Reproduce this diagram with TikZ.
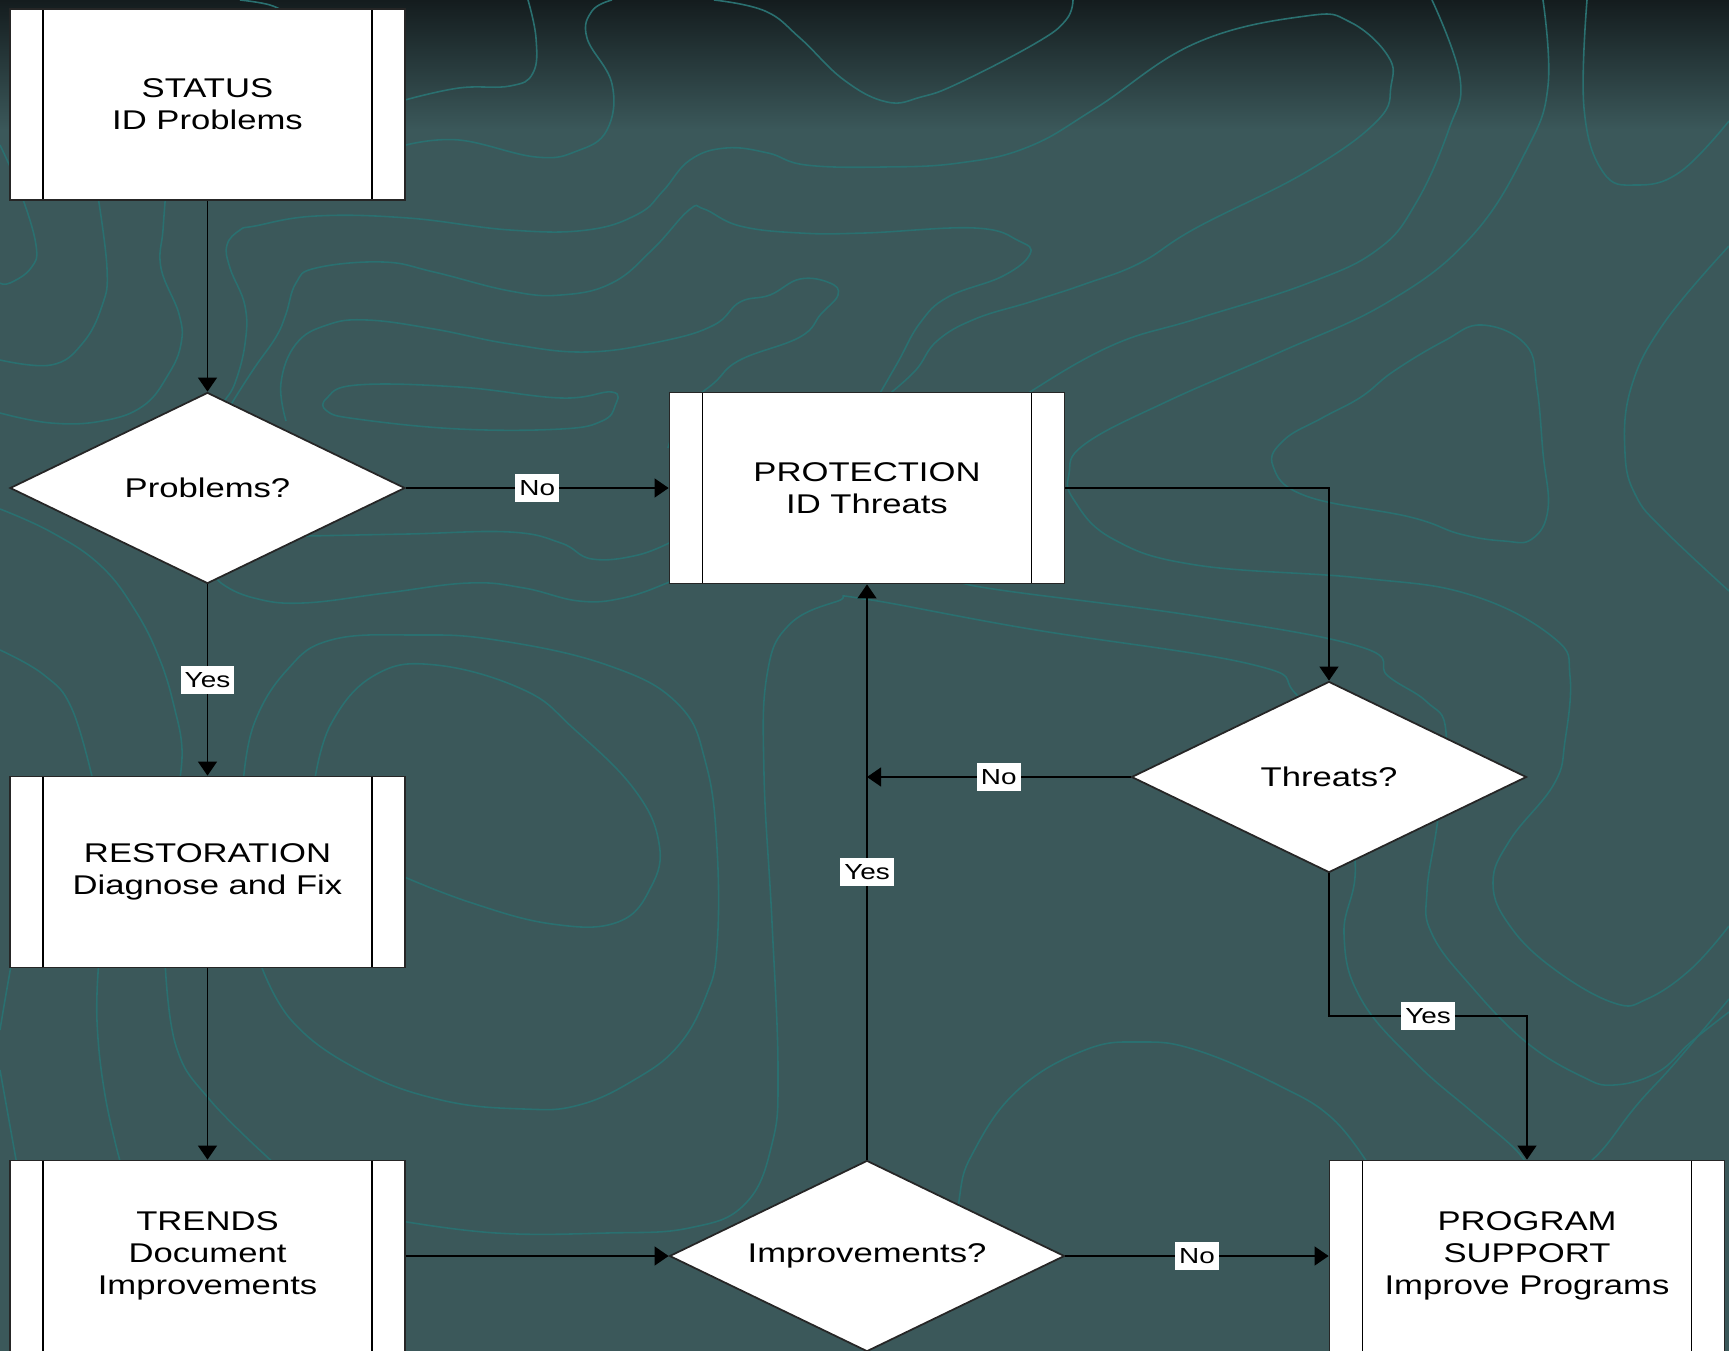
\documentclass[tikz,border=0pt]{standalone}
\usepackage{fontspec}
\setmainfont{Liberation Sans}[FakeStretch=1.28]
\usetikzlibrary{arrows.meta,shapes.geometric}
\definecolor{slate}{RGB}{59,88,90}
\definecolor{slatetop}{RGB}{20,28,30}
\definecolor{topo}{RGB}{42,112,112}
\newcommand{\boxfont}{\fontsize{7.7}{9.1}\selectfont}
\newcommand{\lblfont}{\fontsize{6.2}{7}\selectfont}

\begin{document}
\begin{tikzpicture}[x=1mm,y=1mm]
	\tikzstyle{topoline}=[draw=topo,line width=0.45pt]
	\tikzstyle{process}=[draw=black!85,fill=white,line width=0.5pt,minimum width=39.5mm,minimum height=19.1mm,inner sep=0pt,align=center,font=\boxfont,
		path picture={
		\draw[black] ([xshift=3.3mm]path picture bounding box.north west) -- ([xshift=3.3mm]path picture bounding box.south west);
		\draw[black] ([xshift=-3.3mm]path picture bounding box.north east) -- ([xshift=-3.3mm]path picture bounding box.south east);}]
	\tikzstyle{decision}=[shape=diamond,aspect=2.07,draw=black!85,fill=white,line width=0.5pt,minimum width=39.5mm,minimum height=19.1mm,inner sep=0pt,font=\boxfont]
	\tikzstyle{answer}=[fill=white,inner xsep=1.2pt,inner ysep=1.9pt,font=\lblfont]
	\tikzstyle{flow}=[-{Triangle[length=4pt,width=5.4pt]},line width=0.45pt,black]
	\useasboundingbox (0,0) rectangle (172.9,-135.1);
	\fill[slate] (0,0) rectangle (172.9,-135.1);
	\shade[top color=slatetop,bottom color=slate] (0,0) rectangle (172.9,-13);
	\draw[topoline] plot[smooth,tension=0.7] coordinates {(52.8,0) (53.6,-3.8) (53.3,-7.3) (51,-8.6) (45.9,-8.8) (40.5,-10)};
	\draw[topoline] plot[smooth,tension=0.7] coordinates {(61.2,0) (59.2,-1.1) (58.7,-3.8) (61.2,-8.4) (60.7,-13) (57.7,-15.1) (53.6,-15.7) (45.9,-14) (40.6,-14.5)};
	\draw[topoline] plot[smooth,tension=0.7] coordinates {(71.4,0) (76.5,-1.1) (80,-3.8) (84.4,-8) (88.7,-10.2) (92.1,-9.7) (95.9,-8.3) (103.6,-4.3) (106.6,-2) (107.3,0)};
	\draw[topoline] plot[smooth,tension=0.7] coordinates {(21.5,-42) (22.4,-40.2) (23.5,-38.3) (24.5,-34.4) (24.5,-30.6) (23,-26.8) (22.7,-24.5) (24,-23) (25.5,-22.6) (31.6,-21.6) (40.8,-21.8) (51,-23) (58.7,-23) (63.8,-21.4) (66.3,-19.1) (69,-16) (72.6,-14.8) (76.8,-15.3) (80.6,-16.5) (88.3,-16.7) (95.9,-16.3) (102.8,-14.7) (109.6,-10.8) (119.6,-4.3) (130.6,-1.6) (135,-2.2) (138.8,-5.6) (139.1,-8.6) (137.7,-12.1) (130.6,-17.2) (119.6,-22.8) (114,-26.3) (108.5,-28.4) (103,-30.2) (97.5,-31.9) (93.7,-34.1) (91.5,-37.1) (88.2,-40)};
	\draw[topoline] plot[smooth,tension=0.7] coordinates {(22.5,-41.5) (23.5,-39.8) (25.5,-36.7) (27.6,-33.7) (28.6,-31.4) (29.6,-28.3) (31.6,-26.8) (38.3,-26.2) (43.4,-27.2) (51,-29.1) (56.1,-29.5) (61.2,-28.3) (65.3,-24.9) (68.9,-21) (70.4,-20.9) (74,-22.6) (80,-23.3) (86.5,-23.3) (97.5,-22.8) (101.9,-24.1) (103,-25.4) (100.3,-27.6) (94.8,-29.7) (92,-32.3) (89.8,-36.2) (87.6,-40)};
	\draw[topoline] plot[smooth,tension=0.7] coordinates {(28.6,-42.1) (28.1,-38.3) (29.6,-34.4) (32.7,-32.5) (36.7,-32) (43.4,-32.9) (51,-34.4) (58.7,-35.2) (66.3,-34.1) (71.4,-32.5) (74,-30.2) (77,-29.5) (80,-27.9) (83,-28.3) (83.8,-29.5) (82.1,-31.4) (80,-33.7) (74,-36) (71.4,-38.3) (68.4,-40.9) (66.8,-44.8)};
	\draw[topoline] plot[smooth cycle,tension=0.7] coordinates {(32.7,-39.8) (35.7,-38.5) (45.9,-38.7) (56.1,-39.8) (61.2,-39.2) (61.5,-40.6) (60.2,-42.1) (56.1,-42.9) (45.9,-42.9) (35.7,-41.9) (32.7,-41.1)};
	\draw[topoline] plot[smooth,tension=0.7] coordinates {(143.2,0) (146,-7.8) (144.9,-12.9) (141.6,-20.3) (137.7,-25) (130.6,-28.4) (119.6,-31.9) (111.3,-34.5) (103,-39.2) (101,-41)};
	\draw[topoline] plot[smooth,tension=0.7] coordinates {(154.3,0) (154.8,-8.6) (152.6,-15.1) (147.1,-23.7) (138.8,-30.2) (127.8,-35.3) (116.8,-40.1) (108.5,-44.4) (106.9,-47.4) (107.4,-50) (111.3,-53.9) (119.6,-56.5) (136.1,-57.8) (147.1,-59.5) (155.4,-63.8) (157,-67.6) (156.5,-74.1) (155.4,-78.4) (151,-84) (149.3,-88.3) (151,-92.6) (155.4,-96.9) (161.4,-100.3) (164.7,-99.9) (169.1,-96.9) (172.9,-92.6)};
	\draw[topoline] plot[smooth,tension=0.7] coordinates {(158.7,0) (158.4,-10.8) (160.3,-17.2) (163.6,-18.5) (168,-17.2) (172.9,-12.1)};
	\draw[topoline] plot[smooth,tension=0.7] coordinates {(172.9,-24.6) (166.4,-32.3) (163.1,-38.8) (162.5,-45.3) (163.6,-49.6) (166.4,-53) (172.9,-59.1)};
	\draw[topoline] plot[smooth cycle,tension=0.7] coordinates {(148.2,-32.5) (152.6,-34.5) (153.7,-38.8) (154.3,-45.3) (154.8,-50.9) (153.2,-53.9) (150.4,-54.1) (146,-53.4) (141,-51.7) (130.6,-49.6) (127.3,-46.6) (128.4,-44) (132.2,-41.8) (136.1,-39.7) (139.4,-37.1) (144.4,-34.1)};
	\draw[topoline] plot[smooth,tension=0.7] coordinates {(21.5,-57) (22.1,-58.3) (25.4,-59.8) (30.3,-60.3) (38.6,-59.3) (46.9,-58.3) (52.4,-58.8) (57.9,-60.1) (62.3,-59.8) (66.7,-58.3) (68,-57.5)};
	\draw[topoline] plot[smooth,tension=0.7] coordinates {(30.6,-53.6) (40.8,-53.4) (51,-53.2) (56.1,-54.3) (59.2,-55.9) (63.8,-55.5) (67.5,-54)};
	\draw[topoline] plot[smooth,tension=0.7] coordinates {(0,-14.5) (2,-19.1) (3.6,-24.5) (3.1,-26.8) (1,-28.3) (0,-28.3)};
	\draw[topoline] plot[smooth,tension=0.7] coordinates {(9.7,-19) (10.7,-26.8) (10.2,-30.6) (8.2,-34.4) (5.1,-36.5) (0,-36)};
	\draw[topoline] plot[smooth,tension=0.7] coordinates {(16.6,-19) (16.3,-23) (16.1,-26.8) (17.9,-31.4) (18.1,-34.4) (16.8,-37.5) (14.3,-40.6) (10.2,-42.1) (5.1,-42.3) (0,-41.3)};
	\draw[topoline] plot[smooth,tension=0.7] coordinates {(0,-50.9) (5.1,-53.2) (10,-56.5) (13.5,-61) (16,-66) (17.5,-71) (18.2,-74.9) (17.9,-78.5)};
	\draw[topoline] plot[smooth,tension=0.7] coordinates {(0,-65) (4.4,-67.5) (7.2,-70.9) (9.4,-78.5)};
	\draw[topoline] plot[smooth,tension=0.7] coordinates {(1.2,-96) (0.5,-100) (0,-103)};
	\draw[topoline] plot[smooth,tension=0.7] coordinates {(16.5,-96) (17.6,-104.6) (21,-110) (27.6,-116.5)};
	\draw[topoline] plot[smooth,tension=0.7] coordinates {(9.9,-96) (9.7,-102.1) (10.5,-109.5) (12.1,-116.5)};
	\draw[topoline] plot[smooth,tension=0.7] coordinates {(0,-107) (1.7,-116.5)};
	\draw[topoline] plot[smooth,tension=0.7] coordinates {(24.3,-78.5) (25.4,-72.4) (28.7,-67) (33.1,-64) (41.4,-63.5) (49.6,-64) (60.7,-66.5) (67.8,-70.4) (70.6,-76.4) (71.7,-84.8) (71.7,-94.7) (70.6,-99.6) (67.8,-104.6) (63.4,-108) (57.9,-110.5) (52.4,-110.9) (44.1,-110) (35.9,-107) (29.2,-102.1) (25.9,-96)};
	\draw[topoline] plot[smooth,tension=0.7] coordinates {(31.4,-78.5) (33.1,-72.4) (37.5,-67.5) (43.6,-66.5) (52.4,-69) (57.4,-72.9) (63.4,-78.9) (65.9,-84.3) (65.1,-88.7) (61.8,-92.2) (55.2,-92.4) (46.9,-90.2) (39.5,-87.3)};
	\draw[topoline] plot[smooth,tension=0.7] coordinates {(39.5,-122) (49.6,-123.3) (60.7,-123.3) (68.9,-122.8) (74.5,-120.4) (77.2,-114.4) (77.8,-107) (77.2,-92.2) (76.4,-77.4) (76.7,-67.5) (78.9,-62.5) (83.8,-60.1) (86.5,-59.9) (103,-62.9) (125,-66.4) (129.5,-69.3) (133,-75) (135.5,-86.1) (134.4,-93.4) (136.1,-99.9) (141.6,-106.3) (147.1,-111.1) (151.5,-114.9) (153,-117)};
	\draw[topoline] plot[smooth,tension=0.7] coordinates {(97.5,-57.5) (97.5,-58.6) (119.6,-61.6) (136.1,-64.7) (138.8,-67.6) (142.7,-70.2) (144.6,-73.2) (143.8,-81.8) (142.7,-89.1) (143.2,-93.4) (147.1,-98.6) (152.6,-104.2) (158.1,-107.6) (161.4,-108.5) (165.8,-107.2) (169.1,-104.2) (172.9,-101.2)};
	\draw[topoline] plot[smooth,tension=0.7] coordinates {(172.9,-99.9) (167.5,-106.3) (163.6,-110.6) (160.3,-114.9) (158,-117)};
	\draw[topoline] plot[smooth,tension=0.7] coordinates {(95.5,-130) (95.9,-120.1) (97.5,-114.9) (101.9,-108.9) (108.5,-105) (114,-104.2) (119.6,-105) (127.8,-108.5) (133.3,-111.9) (137.2,-117)};
	\draw[topoline] plot[smooth,tension=0.7] coordinates {(24,0) (27,-0.5) (29,-1.5)};
	\node[process] (status) at (20.75,-10.45) {STATUS\\ID Problems};
	\node[decision] (problems) at (20.75,-48.8) {Problems?};
	\node[process] (restoration) at (20.75,-87.2) {RESTORATION\\Diagnose and Fix};
	\node[process] (trends) at (20.75,-125.6) {TRENDS\\Document\\Improvements};
	\node[process] (protection) at (86.7,-48.8) {PROTECTION\\ID Threats};
	\node[decision] (threats) at (132.9,-77.7) {Threats?};
	\node[decision] (improve) at (86.7,-125.6) {Improvements?};
	\node[process] (program) at (152.7,-125.6) {PROGRAM\\SUPPORT\\Improve Programs};
	\coordinate (merge) at (improve |- threats);
	\coordinate (bend) at (132.9,-101.6);
	\draw[flow] (status) -- (problems);
	\draw[flow] (problems) -- node[answer] {No} (protection);
	\draw[flow] (problems) -- node[answer] {Yes} (restoration);
	\draw[flow] (restoration) -- (trends);
	\draw[flow] (trends) -- (improve);
	\draw[flow] (improve) -- node[answer] {No} (program);
	\draw[flow] (improve) -- node[answer] {Yes} (protection);
	\draw[flow] (protection) -| (threats);
	\draw[flow] (threats) -- node[answer] {No} (merge);
	\draw[flow] (threats) -- (bend) -| node[answer,pos=0.25] {Yes} (program);
\end{tikzpicture}
\end{document}
